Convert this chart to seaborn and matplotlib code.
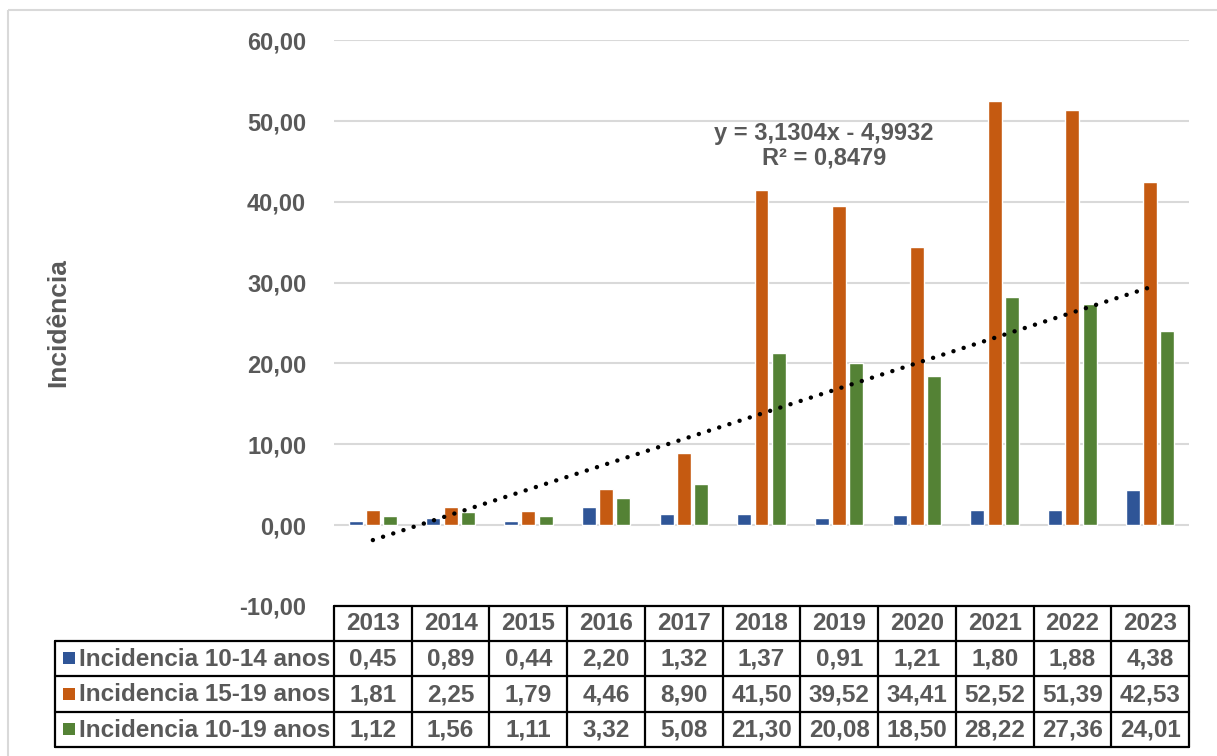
import numpy as np
import pandas as pd
import matplotlib
matplotlib.use("Agg")
import matplotlib.pyplot as plt
import seaborn as sns
from matplotlib.patches import Rectangle

years = ['2013', '2014', '2015', '2016', '2017', '2018', '2019', '2020', '2021', '2022', '2023']
inc_10_14 = [0.45, 0.89, 0.44, 2.20, 1.32, 1.37, 0.91, 1.21, 1.80, 1.88, 4.38]
inc_15_19 = [1.81, 2.25, 1.79, 4.46, 8.90, 41.50, 39.52, 34.41, 52.52, 51.39, 42.53]
inc_10_19 = [1.12, 1.56, 1.11, 3.32, 5.08, 21.30, 20.08, 18.50, 28.22, 27.36, 24.01]
series_names = ['Incidencia 10-14 anos', 'Incidencia 15-19 anos', 'Incidencia 10-19 anos']
colors = ['#2F5597', '#C55A11', '#548235']

# linear trendline of the 10-19 series as printed on the chart
trend_slope = 3.1304
trend_intercept = -4.9932
trend_r2 = 0.8479

series_vals = [inc_10_14, inc_15_19, inc_10_19]
df = pd.DataFrame({
    'ano': years * 3,
    'serie': [s for s in series_names for _ in years],
    'valor': inc_10_14 + inc_15_19 + inc_10_19,
})

sns.set_style('white')
plt.rcParams['font.family'] = ['Liberation Sans', 'DejaVu Sans']
plt.rcParams['font.weight'] = 'bold'
txt = '#595959'

W, H = 1217, 756
fig = plt.figure(figsize=(W / 100, H / 100), dpi=100)

# plot area (pixel layout of the reference)
left, right, top, bottom = 334, 1189, 40.4, 605.8
ax = fig.add_axes([left / W, 1 - bottom / H, (right - left) / W, (bottom - top) / H])

sns.barplot(data=df, x='ano', y='valor', hue='serie', palette=colors, saturation=1,
            width=0.665, gap=0.19, legend=False, ax=ax, zorder=3)

ax.set_xlim(-0.5, len(years) - 0.5)
ax.set_ylim(-10, 60)
ax.set_yticks(np.arange(-10, 61, 10))
ax.set_yticklabels([f'{v:.2f}'.replace('.', ',') for v in np.arange(-10, 61, 10)],
                   fontsize=17, fontweight='bold', color=txt)
ax.tick_params(axis='y', length=0, pad=20)
ax.set_xticks([])
ax.set_xlabel('')
ax.set_ylabel('')
for s in ax.spines.values():
    s.set_visible(False)
ax.grid(axis='y', color='#D9D9D9', linewidth=1.5, zorder=0)
ax.set_axisbelow(True)

# trendline (Excel style, x = 1..n)
xs = np.arange(1, len(years) + 1)
fit = trend_slope * xs + trend_intercept
ax.plot(xs - 1, fit, color='black', linewidth=3.2, linestyle=(0, (0.01, 2.4)),
        dash_capstyle='round', zorder=5)
sign = '-' if trend_intercept < 0 else '+'
eq = (f'y = {trend_slope:.4f}x {sign} {abs(trend_intercept):.4f}'.replace('.', ',') + '\n'
      + f'R² = {trend_r2:.4f}'.replace('.', ','))
ax.text(5.8, 47.0, eq, ha='center', va='center', fontsize=17, fontweight='bold',
        color=txt, linespacing=1.1, zorder=6)

# y axis title
fig.text(58 / W, 1 - 323 / H, 'Incidência', rotation=90, ha='center', va='center',
         fontsize=19, fontweight='bold', color=txt)

# data table drawn in pixel coords on an overlay axes
tax = fig.add_axes([0, 0, 1, 1])
tax.set_xlim(0, W)
tax.set_ylim(H, 0)
tax.axis('off')
tax.patch.set_alpha(0)

colw = (right - left) / len(years)
row_edges = [605.5, 640.5, 676, 711.5, 747]
leg_left = 55
lw = 1.6
fs = 17.5
# header
for i, y in enumerate(years):
    x0 = left + i * colw
    tax.text(x0 + colw / 2, (row_edges[0] + row_edges[1]) / 2 + 1, y, ha='center', va='center',
             fontsize=fs, fontweight='bold', color=txt)
tax.plot([left, right], [row_edges[0]] * 2, color='black', lw=lw)
for k in range(1, 5):
    tax.plot([leg_left, right], [row_edges[k]] * 2, color='black', lw=lw)
for i in range(len(years) + 1):
    x0 = left + i * colw
    tax.plot([x0, x0], [row_edges[0], row_edges[4]], color='black', lw=lw)
tax.plot([leg_left, leg_left], [row_edges[1], row_edges[4]], color='black', lw=lw)

for r, (name, vals, c) in enumerate(zip(series_names, series_vals, colors)):
    yc = (row_edges[r + 1] + row_edges[r + 2]) / 2
    tax.add_patch(Rectangle((63, yc - 6), 12, 12, facecolor=c, edgecolor='none'))
    tax.text(79, yc + 1, name, ha='left', va='center', fontsize=fs, fontweight='bold', color=txt)
    for i, v in enumerate(vals):
        tax.text(left + (i + 0.5) * colw, yc + 1, f'{v:.2f}'.replace('.', ','), ha='center',
                 va='center', fontsize=fs, fontweight='bold', color=txt)

# chart area border
tax.add_patch(Rectangle((8, 10), W + 20, H + 20, facecolor='none', edgecolor='#D9D9D9', lw=1.5))

fig.savefig('out.png', dpi=100)
